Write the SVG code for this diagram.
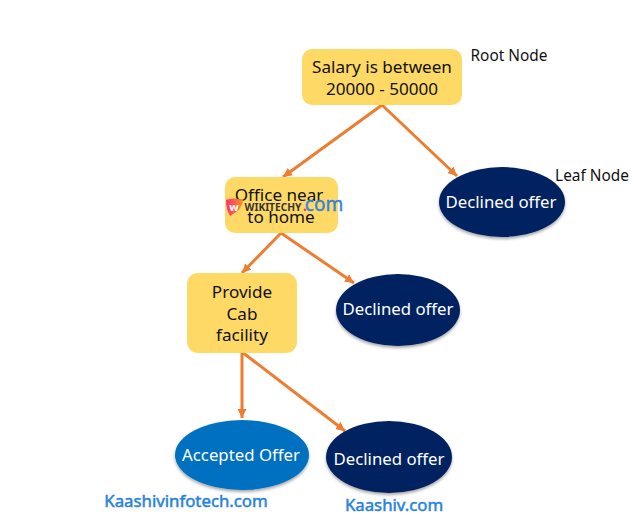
<svg xmlns="http://www.w3.org/2000/svg" width="644" height="521" viewBox="0 0 644 521">
<style>
text{font-family:"Noto Sans","DejaVu Sans",sans-serif;text-anchor:middle}
.box{fill:#ffd966}
.t{font-size:17.1px;fill:#111}
.w{font-size:16.8px;fill:#fff}
.n{font-size:15.4px;fill:#111}
.navy{fill:#002060;filter:url(#s)}
.blue{fill:#0070c0;filter:url(#s)}
.c{stroke:#ed7d31;stroke-width:3;fill:none;marker-end:url(#a)}
.k{font-size:16.8px;fill:#0a8fe0;stroke:#3f78d8;stroke-width:.5px}
</style>
<defs>
<marker id="a" markerUnits="userSpaceOnUse" markerWidth="10" markerHeight="9" refX="9" refY="4.5" orient="auto"><path d="M0 0L9 4.500L0 9Z" fill="#ed7d31"/></marker>
<filter id="s" x="-10%" y="-10%" width="120%" height="125%"><feDropShadow dx="0" dy="2" stdDeviation="1.5" flood-color="#000" flood-opacity=".35"/></filter>
<linearGradient id="g" x1="0" x2="1"><stop offset="0" stop-color="#ff2d78"/><stop offset="1" stop-color="#f7931e"/></linearGradient>
</defs>
<g id="connectors">
<path class="c" d="M382 105L283 177"/>
<path class="c" d="M382 105L457 176"/>
<path class="c" d="M281 233L242 273"/>
<path class="c" d="M281 233L354 283"/>
<path class="c" d="M242 352L242 418"/>
<path class="c" d="M242 352L345 431"/>
</g>
<g id="root"><rect class="box" x="302" y="49" width="160" height="56" rx="10"/><text class="t" x="382" y="73">Salary is between</text><text class="t" x="382" y="95">20000 - 50000</text></g>
<g id="root-label"><text class="n" x="509" y="61">Root Node</text></g>
<g id="leaf-label"><text class="n" x="592" y="181">Leaf Node</text></g>
<g id="office"><rect class="box" x="225" y="177" width="113" height="56" rx="10"/><text class="t" x="279" y="201">Office near</text><text class="t" x="281" y="223">to home</text></g>
<g id="declined-1"><ellipse class="navy" cx="502" cy="202" rx="63" ry="35"/><text class="w" x="501" y="208">Declined offer</text></g>
<g id="cab"><rect class="box" x="187" y="273" width="110" height="80" rx="11"/><text class="t" x="242" y="298">Provide</text><text class="t" x="242" y="320">Cab</text><text class="t" x="242" y="341">facility</text></g>
<g id="declined-2"><ellipse class="navy" cx="398" cy="310" rx="62" ry="36"/><text class="w" x="398" y="315">Declined offer</text></g>
<g id="accepted"><ellipse class="blue" cx="242" cy="455" rx="67" ry="35"/><text class="w" x="241" y="461">Accepted Offer</text></g>
<g id="declined-3"><ellipse class="navy" cx="389" cy="457" rx="63" ry="36"/><text class="w" x="389" y="465">Declined offer</text></g>
<g id="wikitechy">
<path d="M226 200Q233 197 243 200Q243 209 230 216Q226 209 226 200Z" fill="url(#g)"/>
<text x="234" y="211" style="font-size:11px;font-weight:700;fill:#fff">w</text>
<text x="273" y="211" style="font-size:10.200px;font-weight:700;fill:#333">WIKITECHY</text>
<text x="305" y="211" style="font-size:14px;font-weight:700;fill:#ff2d78">.</text>
<text x="324" y="211" style="font-size:19px;fill:#1e90e8;stroke:#4a6fd0;stroke-width:.4px">com</text>
</g>
<text class="k" x="186" y="507">Kaashivinfotech.com</text>
<text class="k" x="394" y="511">Kaashiv.com</text>
</svg>
